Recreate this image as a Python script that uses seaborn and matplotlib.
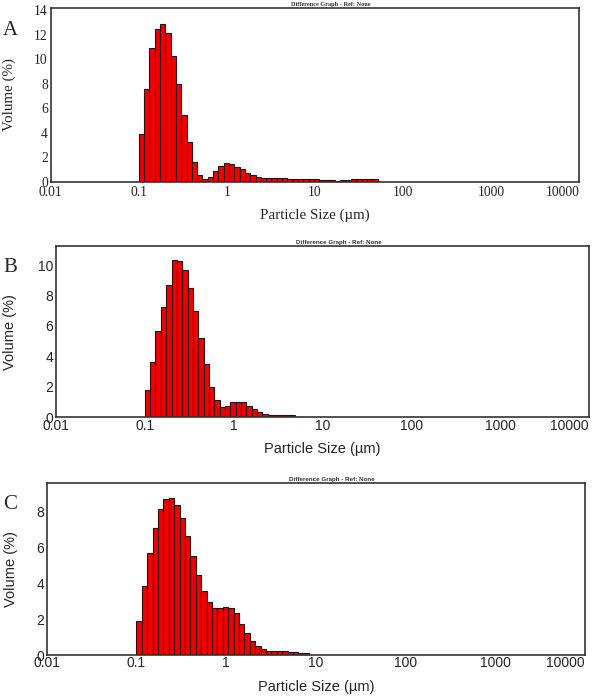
import numpy as np
import pandas as pd
import matplotlib
matplotlib.use("Agg")
import matplotlib.pyplot as plt
import seaborn as sns

# particle size distribution, volume % per size class, first class starts at 0.1 um
bin_start = 0.1
bins_per_decade = 16.6

vol_a = [3.9, 7.55, 10.87, 12.45, 12.85, 12.12, 10.27, 7.99, 5.43, 3.26,
         1.63, 0.54, 0.22, 0.38, 0.87, 1.3, 1.5, 1.41, 1.22, 1.0,
         0.73, 0.54, 0.35, 0.27, 0.27, 0.27, 0.27, 0.27, 0.19, 0.19,
         0.19, 0.19, 0.19, 0.19, 0.1, 0.1, 0.1, 0.03, 0.1, 0.1,
         0.22, 0.22, 0.22, 0.22, 0.22]
vol_b = [1.82, 3.65, 5.67, 7.26, 8.69, 10.33, 10.26, 9.65, 8.51, 6.98,
         5.19, 3.5, 2.01, 1.12, 0.7, 0.76, 0.98, 1.0, 0.98, 0.74,
         0.52, 0.33, 0.2, 0.13, 0.13, 0.13, 0.13, 0.13, 0.04, 0.04]
vol_c = [1.92, 3.82, 5.68, 7.08, 8.14, 8.72, 8.77, 8.38, 7.62, 6.61,
         5.49, 4.45, 3.56, 2.94, 2.63, 2.63, 2.7, 2.62, 2.33, 1.73,
         1.25, 0.8, 0.5, 0.34, 0.22, 0.22, 0.22, 0.22, 0.17, 0.17,
         0.11, 0.11]

panels = ["A", "B", "C"]
x_ticks = [0.01, 0.1, 1, 10, 100, 1000, 10000]
x_tick_labels = ["0.01", "0.1", "1", "10", "100", "1000", "10000"]
y_ticks = [list(range(0, 15, 2)), list(range(0, 11, 2)), list(range(0, 9, 2))]
y_tops = [14.14, 11.25, 9.6]
title = "Difference Graph - Ref: None"

sns.set_style("white")

fig = plt.figure(figsize=(6.0, 6.98), dpi=100)
boxes = [[0.0845, 0.7397, 0.881, 0.2484],
         [0.0933, 0.4021, 0.888, 0.2454],
         [0.0778, 0.0616, 0.897, 0.2468]]
fonts = ["Liberation Serif", "Liberation Sans", "Liberation Sans"]
tick_size = [9.8, 10, 10]
ylab_pad = [13, 15, 13]

for i, vol in enumerate([vol_a, vol_b, vol_c]):
    ax = fig.add_axes(boxes[i])
    fam = fonts[i]
    n = len(vol)
    log_edges = np.log10(bin_start) + np.arange(n + 1) / bins_per_decade
    centers = 10 ** ((log_edges[:-1] + log_edges[1:]) / 2)
    df = pd.DataFrame({"size": centers, "vol": vol})
    # bins are given in log10 units because of log_scale
    sns.histplot(data=df, x="size", weights="vol", bins=log_edges.tolist(), log_scale=True, ax=ax,
                 color="#ee0000", edgecolor="#3a0808", linewidth=0.8, alpha=1)
    ax.set_xlim(0.01, 10000)
    ax.set_ylim(0, y_tops[i])
    ax.set_xticks(x_ticks)
    ax.set_xticklabels(x_tick_labels, family=fam, fontsize=tick_size[i])
    ax.minorticks_off()
    ax.set_yticks(y_ticks[i])
    ax.set_yticklabels([str(v) for v in y_ticks[i]], family=fam, fontsize=tick_size[i])
    ax.get_xticklabels()[-1].set_ha("right")
    ax.tick_params(axis="y", length=0, pad=2)
    ax.tick_params(axis="x", length=0, pad=3 if i == 0 else 1)
    ax.set_xlabel("Particle Size (\u00b5m)", family=fam, fontsize=10.8 if i == 0 else 10.5, labelpad=7)
    ax.set_ylabel("Volume (%)", family=fam, fontsize=10.8 if i == 0 else 10.5, labelpad=ylab_pad[i])
    for sp in ax.spines.values():
        sp.set_color("#333333")
        sp.set_linewidth(1.2)
    ax.text(0.53, 1.005, title, transform=ax.transAxes, ha="center", va="bottom",
            fontsize=4.5, family=fam, fontweight="bold", color="#333333")
    fig.text(0.005, boxes[i][1] + boxes[i][3] - 0.045, panels[i], family="Liberation Serif",
             fontsize=15, ha="left", va="bottom")

fig.savefig("out.png", dpi=100, facecolor="white")
